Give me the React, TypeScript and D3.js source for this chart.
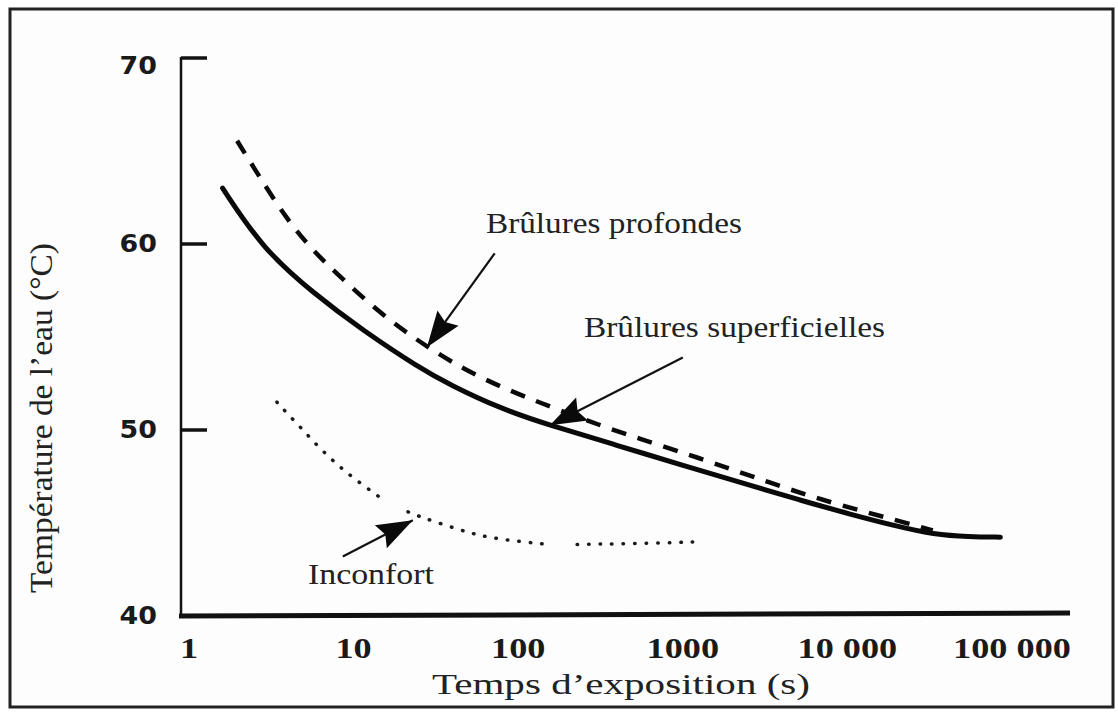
import React from 'react';
import * as d3 from 'd3';

// axis ticks
const xTicks = [1, 10, 100, 1000, 10000, 100000];
const xTickLabels = ['1', '10', '100', '1000', '10 000', '100 000'];
const yTicks = [40, 50, 60, 70];
const yTickLabels = ['40', '50', '60', '70'];

// Brûlures profondes (dashed)
const deepTime = [1.96, 2.6, 3.94, 5.67, 7.5, 14.5, 27.9, 56, 136, 398, 1270, 3390, 8180, 20900, 33000];
const deepTemp = [65.55, 63.8, 61.3, 59.65, 58.6, 56.25, 54.45, 52.85, 51.45, 49.9, 48.5, 47.15, 46.05, 45.1, 44.6];

// Brûlures superficielles (solid)
const superTime = [1.6, 2.8, 5.7, 11.4, 25, 38.5, 78, 156, 398, 1000, 2560, 5150, 10400, 20900, 33000, 55000, 85000];
const superTemp = [63.0, 59.75, 57.35, 55.35, 53.35, 52.43, 51.15, 50.25, 49.18, 48.1, 47.03, 46.23, 45.47, 44.78, 44.4, 44.25, 44.24];

// Inconfort (dotted), NaN = gap in the line
const comfortTime = [3.42, 3.94, 4.93, 6.25, 8.27, 10.9, 14.9, NaN, 21.4, 26, 38.5, 56, 81, 150, NaN, 228, 632, 1310];
const comfortTemp = [51.5, 50.9, 50.0, 49.0, 48.0, 47.15, 46.3, NaN, 45.6, 45.3, 44.8, 44.35, 44.1, 43.85, NaN, 43.85, 43.9, 44.0];

// annotation labels and arrows (data coordinates)
const labels = ['Brûlures profondes', 'Brûlures superficielles', 'Inconfort'];
const labelPos = [[63.7, 60.6], [251, 54.98], [5.28, 41.72]];
const labelWidth = [256, 301, 126];
const arrowFrom = [[72, 59.5], [1000, 53.9], [8.6, 43.2]];
const arrowTo = [[27.9, 54.45], [156, 50.25], [22.9, 45.15]];

const W = 1118;
const H = 713;
const plotLeft = 181;
const plotRight = 1070;

const serif = '"Liberation Serif"';

export default function App() {
  const x = d3.scaleLog().domain([1, 100000]).range([189, 1012]);
  const y = d3.scaleLinear().domain([40, 70]).range([616, 58]);

  const line = d3
    .line<[number, number]>()
    .defined(d => !isNaN(d[0]) && !isNaN(d[1]))
    .x(d => x(d[0]))
    .y(d => y(d[1]))
    .curve(d3.curveBasis);

  const zip = (a: number[], b: number[]) => a.map((v, i) => [v, b[i]] as [number, number]);

  const arrowHead = (fx: number, fy: number, tx: number, ty: number) => {
    const dx = tx - fx;
    const dy = ty - fy;
    const len = Math.sqrt(dx * dx + dy * dy);
    const ux = dx / len;
    const uy = dy / len;
    const L = 36;
    const hw = 13;
    const bx = tx - ux * L;
    const by = ty - uy * L;
    return `M${tx},${ty}L${bx - uy * hw},${by + ux * hw}L${bx + ux * 5},${by + uy * 5}L${bx + uy * hw},${by - ux * hw}Z`;
  };

  return (
    <svg width={W} height={H} style={{ position: 'absolute', left: 0, top: 0, background: '#fff' }}>
      <rect x={10} y={9} width={1103} height={698} fill="#fdfdfd" stroke="#222" strokeWidth={3} />

      {/* y axis */}
      <line x1={plotLeft} x2={plotLeft} y1={y(70) - 1} y2={y(40)} stroke="#111" strokeWidth={2.5} />
      {yTicks.filter(t => t > 40).map(t => (
        <line key={t} x1={plotLeft} x2={plotLeft + 26} y1={y(t)} y2={y(t)} stroke="#111" strokeWidth={3.5} />
      ))}
      {yTicks.map((t, i) => (
        <text
          key={t}
          x={157}
          y={y(t) + (t === 70 ? 8 : 0)}
          textAnchor="end"
          dominantBaseline="central"
          fontFamily='"DejaVu Sans", Verdana, sans-serif'
          fontWeight="bold"
          fontSize={24}
          fill="#1a1a1a"
          transform={`translate(157,0) scale(1.12,1) translate(-157,0)`}
        >
          {yTickLabels[i]}
        </text>
      ))}

      {/* x axis */}
      <line x1={plotLeft - 2} x2={plotRight} y1={y(40)} y2={y(40) - 3} stroke="#111" strokeWidth={5} />
      {xTicks.map((t, i) => (
        <text
          key={t}
          x={x(t)}
          y={658}
          textAnchor="middle"
          fontFamily={serif}
          fontWeight="bold"
          fontSize={29}
          fill="#1a1a1a"
          transform={`translate(${x(t)},0) scale(1.25,1) translate(${-x(t)},0)`}
        >
          {xTickLabels[i]}
        </text>
      ))}

      <text x={432} y={694} fontFamily={serif} fontSize={30} fill="#222" textLength={378} lengthAdjust="spacingAndGlyphs">
        Temps d’exposition (s)
      </text>
      <text
        transform="translate(52,418) rotate(-90)"
        textAnchor="middle"
        fontFamily={serif}
        fontSize={32}
        fill="#222"
        textLength={350}
        lengthAdjust="spacingAndGlyphs"
      >
        Température de l’eau  (°C)
      </text>

      {/* curves */}
      <path d={line(zip(superTime, superTemp)) || ''} fill="none" stroke="#0a0a0a" strokeWidth={5} strokeLinecap="round" />
      <path d={line(zip(deepTime, deepTemp)) || ''} fill="none" stroke="#0a0a0a" strokeWidth={4.5} strokeDasharray="15 12" />
      <path
        d={line(zip(comfortTime, comfortTemp)) || ''}
        fill="none"
        stroke="#1a1a1a"
        strokeWidth={3.5}
        strokeLinecap="round"
        strokeDasharray="0.5 11"
      />

      {/* annotations */}
      {labels.map((lab, i) => {
        const fx = x(arrowFrom[i][0]);
        const fy = y(arrowFrom[i][1]);
        const tx = x(arrowTo[i][0]);
        const ty = y(arrowTo[i][1]);
        return (
          <g key={lab}>
            <line x1={fx} y1={fy} x2={tx} y2={ty} stroke="#111" strokeWidth={2.2} />
            <path d={arrowHead(fx, fy, tx, ty)} fill="#0a0a0a" />
            <text
              x={x(labelPos[i][0])}
              y={y(labelPos[i][1])}
              fontFamily={serif}
              fontSize={29}
              fill="#222"
              textLength={labelWidth[i]}
              lengthAdjust="spacingAndGlyphs"
            >
              {lab}
            </text>
          </g>
        );
      })}
    </svg>
  );
}
